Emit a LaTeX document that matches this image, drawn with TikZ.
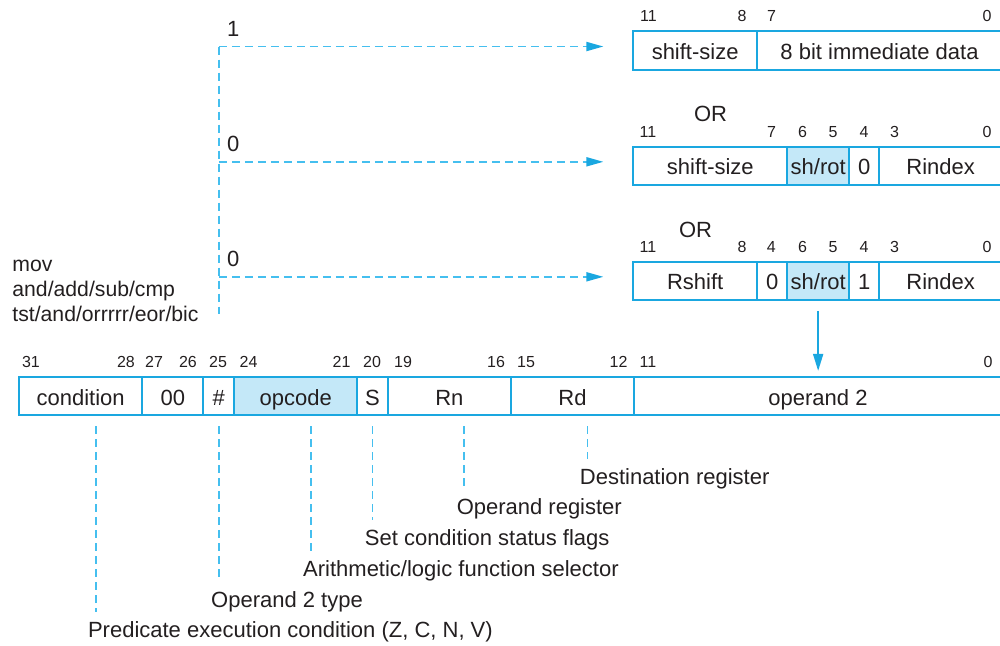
\documentclass[tikz,border=0pt]{standalone}
\usepackage{fontspec}
\setmainfont{Liberation Sans}
\usepackage{xcolor}
\usepackage{tikz}
\usetikzlibrary{arrows.meta,positioning,calc}
\definecolor{cian}{HTML}{1AA7E0}
\definecolor{cianclaro}{HTML}{45BFEF}
\definecolor{celeste}{HTML}{C4E8F8}
\definecolor{tinta}{HTML}{231F20}

\begin{document}
\begin{tikzpicture}[x=0.5pt,y=-0.5pt,
  campo/.style={draw=cian,line width=0.9pt,minimum height=19.2pt,inner sep=0pt,text height=11pt,text depth=2pt,font=\fontsize{11}{13}\selectfont,text=tinta},
  bitnum/.style={font=\fontsize{8}{9}\selectfont,text=tinta,inner sep=0pt},
  texto/.style={font=\fontsize{11}{12.5}\selectfont,text=tinta,inner sep=0pt},
  guia/.style={draw=cianclaro,line width=0.9pt,dash pattern=on 4pt off 2.5pt},
  flecha/.style={guia,-{Triangle[length=8.5pt,width=4.5pt,color=cian]}}]
  \useasboundingbox (0,0) rectangle (1000,645);
  % registro principal
  \foreach \nm/\xa/\xb/\txt/\fl in {cond/19/142.3/condition/white,
                                    ceros/142.3/203.3/00/white,
                                    hash/203.3/234.3/\#/white,
                                    opc/234.3/357.3/opcode/celeste,
                                    sbit/357.3/387.7/S/white,
                                    rn/387.7/511/Rn/white,
                                    rd/511/634/Rd/white,
                                    op2/634/1002/operand 2/white}{
    \node[campo,fill=\fl,minimum width={(\xb-\xa)*0.5pt}] (\nm) at ({(\xa+\xb)/2},396) {\txt};
  }
  % formatos del operando 2
  \foreach \nm/\xa/\xb/\yc/\txt/\fl in {sza/633.3/757/50.5/shift-size/white,
                                        inm/757/1002/50.5/8 bit immediate data/white,
                                        szb/633.3/787.3/165.8/shift-size/white,
                                        shb/787.3/849/165.8/{sh/rot}/celeste,
                                        czb/849/879.3/165.8/0/white,
                                        rib/879.3/1002/165.8/Rindex/white,
                                        rsc/633.3/757/280.8/Rshift/white,
                                        czc/757/787.3/280.8/0/white,
                                        shc/787.3/849/280.8/{sh/rot}/celeste,
                                        unc/849/879.3/280.8/1/white,
                                        ric/879.3/1002/280.8/Rindex/white}{
    \node[campo,fill=\fl,minimum width={(\xb-\xa)*0.5pt}] (\nm) at ({(\xa+\xb)/2},\yc) {\txt};
  }
  % numeros de bit
  \foreach \x/\b [count=\i] in {648.5/11,742/8,771.5/7,987/0}
    \node[bitnum] (na\i) at (\x,16) {\b};
  \foreach \x/\b [count=\i] in {648/11,771.5/7,802.5/6,833/5,864/4,894.5/3,987/0}
    \node[bitnum] (nb\i) at (\x,131.7) {\b};
  \foreach \x/\b [count=\i] in {648/11,742/8,771.3/4,802.5/6,833/5,864/4,894.5/3,987/0}
    \node[bitnum] (nc\i) at (\x,246.7) {\b};
  \foreach \x/\b [count=\i] in {31/31,126/28,154/27,188/26,218/25,248.5/24,341.5/21,372/20,403/19,496/16,526/15,618.5/12,648/11,988/0}
    \node[bitnum] (nm\i) at (\x,362) {\b};
  \node[texto] (orb) at (710.5,114) {OR};
  \node[texto] (orc) at (695.5,230) {OR};
  \node[texto,font=\fontsize{10.6}{12.5}\selectfont,align=left,anchor=west] (ops) at (12,291) {mov\\and/add/sub/cmp\\tst/and/orrrrr/eor/bic};
  % arbol del bit #
  \coordinate (tb) at ([yshift=31pt]hash.north);
  \foreach \k/\caja/\v in {1/sza/1,2/szb/0,3/rsc/0}{
    \coordinate (t\k) at ([xshift=-14.5pt,yshift=2pt]\caja.west);
    \coordinate (b\k) at (tb |- t\k);
    \draw[flecha] (b\k) -- (t\k);
    \node[texto,anchor=south west] (v\k) at ([xshift=4pt,yshift=5pt]b\k) {\v};
  }
  \draw[guia] (b1) -- (tb);
  % sh/rot hacia operand 2
  \coordinate (pa) at (shc.south |- op2.north);
  \draw[cian,line width=0.9pt,-{Triangle[length=8.5pt,width=5pt]}] ([yshift=-5pt]shc.south) -- ([yshift=2.5pt]pa);
  % notas inferiores
  \foreach \fld/\dx/\ty/\txt [count=\i] in {rd/15/479/Destination register,
                                            rn/15/509/Operand register,
                                            sbit/0/540/Set condition status flags,
                                            opc/15/571/{Arithmetic/logic function selector},
                                            hash/0/602/Operand 2 type,
                                            cond/15/632/{Predicate execution condition (Z, C, N, V)}}{
    \coordinate (ini\i) at ([xshift=\dx*0.5pt,yshift=-5pt]\fld.south);
    \coordinate (lv\i) at (0,\ty);
    \node[texto,anchor=west,xshift=-4pt] (nota\i) at (ini\i |- lv\i) {\txt};
    \coordinate (fin\i) at (ini\i |- nota\i.west);
    \draw[guia] (ini\i) -- ([yshift=10pt]fin\i);
  }
\end{tikzpicture}
\end{document}
